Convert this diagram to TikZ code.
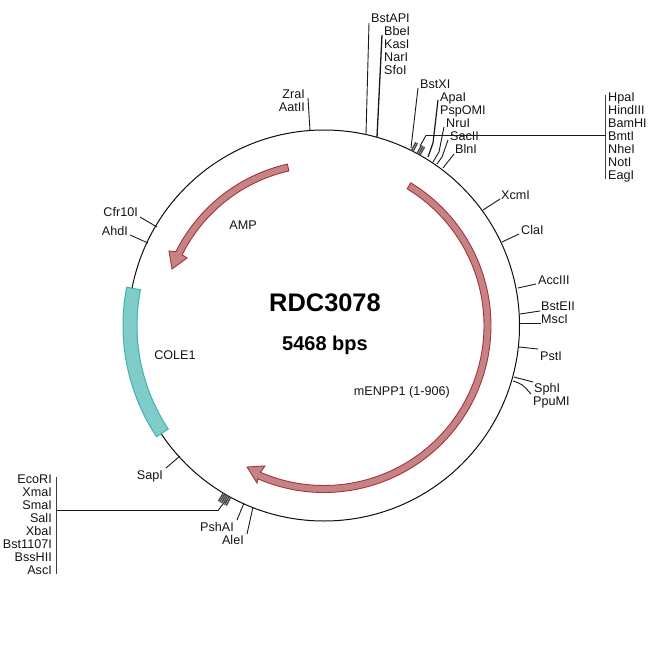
\documentclass[tikz,border=0pt]{standalone}
\usepackage{fontspec}
\setmainfont{Liberation Sans}
\newcommand{\ang}[2]{({324+#1*cos(#2)},{325.5-#1*sin(#2)})}
\tikzset{
  lab/.style={inner sep=0pt,text height=8.6pt,text depth=0pt,font=\fontsize{12.6}{13}\selectfont,text=black!92},
  lr/.style={lab,anchor=west},
  ll/.style={lab,anchor=east},
  cl/.style={line width=0.9pt,black!90},
  ring/.style={line width=1pt,black!95},
  gene/.style={fill={rgb,255:red,196;green,132;blue,134},draw={rgb,255:red,172;green,48;blue,54},line width=0.9pt,line join=miter},
  ori/.style={fill={rgb,255:red,127;green,204;blue,200},draw={rgb,255:red,62;green,180;blue,176},line width=1pt},
  tick/.style={black!70,line width=1.4pt},
  busbar/.style={line width=1pt,black!75},
}
\begin{document}
\begin{tikzpicture}[x=1pt,y=-1pt]
\useasboundingbox (0,0) rectangle (650,650);
\fill[white] (0,0) rectangle (650,650);
\draw[ring] (324,325.5) circle[radius=195.5];
% gene arrows
\draw[gene] plot[domain=58.7:-113.4,samples=90] ({324+167*cos(\x)},{325.5-167*sin(\x)})
  -- (257,483) -- (247,467) -- (265,466)
  -- plot[domain=-113.4:58.7,samples=90] ({324+160*cos(\x)},{325.5-160*sin(\x)}) -- cycle;
\draw[gene] plot[domain=102.8:153.5,samples=40] ({324+165.5*cos(\x)},{325.5-165.5*sin(\x)})
  -- (169,251) -- (172,269) -- (187,258)
  -- plot[domain=153.5:102.8,samples=40] ({324+158.5*cos(\x)},{325.5-158.5*sin(\x)}) -- cycle;
\draw[ori] plot[domain=169:213.6,samples=40] ({324+201*cos(\x)},{325.5-201*sin(\x)})
  -- plot[domain=213.6:169,samples=40] ({324+187*cos(\x)},{325.5-187*sin(\x)}) -- cycle;
% titles
\node[inner sep=0pt,font=\bfseries\fontsize{25.4}{27}\selectfont] (title) at (325,303) {RDC3078};
\node[inner sep=0pt,font=\bfseries\fontsize{20}{22}\selectfont] (bps) at (325,345) {5468 bps};
\node[lab] (amp) at (243,225) {AMP};
\node[lab] (cole) at (175,355) {COLE1};
\node[lab,anchor=east] (menpp) at (450,391) {mENPP1 (1-906)};
% top labels
\node[lr] (bstapi) at (371,18) {BstAPI};
\node[lr] (bbei) at (384,31) {BbeI};
\node[lr] (kasi) at (384,44) {KasI};
\node[lr] (nari) at (384,57) {NarI};
\node[lr] (sfoi) at (384,70) {SfoI};
\node[ll] (zrai) at (305,94) {ZraI};
\node[ll] (aatii) at (305,107) {AatII};
\node[lr] (bstxi) at (420,84) {BstXI};
\node[lr] (apai) at (440,97) {ApaI};
\node[lr] (pspomi) at (440,110) {PspOMI};
\node[lr] (nrui) at (446,123) {NruI};
\node[lr] (sacii) at (450,136) {SacII};
\node[lr] (blni) at (455,149) {BlnI};
% right group
\foreach \n/\t/\y in {hpa/HpaI/97,hind/HindIII/110,bam/BamHI/123,bmt/BmtI/136,nhe/NheI/149,noti/NotI/162,eag/EagI/175}
  \node[lr] (\n) at (608,\y) {\t};
% right side
\node[lr] (xcmi) at (501,195) {XcmI};
\node[lr] (clai) at (521,230) {ClaI};
\node[lr] (acc) at (538,280) {AccIII};
\node[lr] (bste) at (541,306) {BstEII};
\node[lr] (msci) at (541,319) {MscI};
\node[lr] (psti) at (540,356) {PstI};
\node[lr] (sphi) at (534,388) {SphI};
\node[lr] (ppu) at (533,401) {PpuMI};
% left side
\node[ll] (cfr) at (138,212) {Cfr10I};
\node[ll] (ahdi) at (128,231) {AhdI};
\node[ll] (sapi) at (163,475) {SapI};
\node[ll] (psh) at (234,527) {PshAI};
\node[ll] (alei) at (244,540) {AleI};
\foreach \n/\t/\y in {eco/EcoRI/479,xma/XmaI/492,sma/SmaI/505,sal/SalI/518,xba/XbaI/531,bst/Bst1107I/544,bss/BssHII/557,asc/AscI/570}
  \node[ll] (\n) at (52,\y) {\t};
% connectors
\draw[cl] (bstapi.west)++(-2,5) -- (366,134);
\draw[cl,line width=1.3pt] (bbei.west)++(-2,4) -- (377,137);
\draw[cl] (aatii.east)++(3,-9) -- (310,131);
\draw[cl] (bstxi.west)++(-2,4) -- (411,148);
\draw[cl,line width=1.2pt] (apai.west)++(-2,3) -- (433,143) -- (428,157);
\draw[cl] (nrui.west)++(-2,4) -- (439,152) -- (433,162);
\draw[cl] (sacii.west)++(-2,4) -- (442,157) -- (437,164);
\draw[cl] (blni.west)++(-1,5) -- (443,168);
% right bus
\draw[busbar] (605.5,95) -- (605.5,179);
\draw[cl] (605.5,135.5) -- (426,135.5) -- (420,146);
\draw[cl] (xcmi.west)++(-1,4) -- (483,210);
\draw[cl] (clai.west)++(-2,4) -- (502,242);
\draw[cl] (acc.west)++(-2,4) -- (518,288);
\draw[cl] (bste.west)++(-1,5) .. controls (530,313) .. (520,314);
\draw[cl] (msci.west)++(0,4) -- (520,323);
\draw[cl] (psti.west)++(-2,-7) -- (519,347);
\draw[cl] (sphi.west)++(-1,-6) -- (514,377);
\draw[cl] (ppu.west)++(-2,-7) .. controls (522,384) .. (513,381);
\draw[cl] (cfr.east)++(2,5) -- (157,227);
\draw[cl] (ahdi.east)++(2,4) -- (148,243);
\draw[cl] (sapi.east)++(3,-7) -- (180,456);
\draw[cl] (psh.east)++(3,-7) -- (244,503);
\draw[cl] (alei.east)++(3,-6) -- (253,507);
% left bus
\draw[busbar] (56.5,477) -- (56.5,574);
\draw[cl] (56.5,510.5) -- (218,510.5) -- (226,500);
% tick clusters
\foreach \a in {60.6,61.1,61.6,62.9,63.4}
  \draw[tick] \ang{195.5}{\a} -- \ang{205}{\a};
\foreach \a in {239,239.5,240,240.5,241,241.5}
  \draw[tick] \ang{195.5}{\a} -- \ang{205}{\a};
\end{tikzpicture}
\end{document}
